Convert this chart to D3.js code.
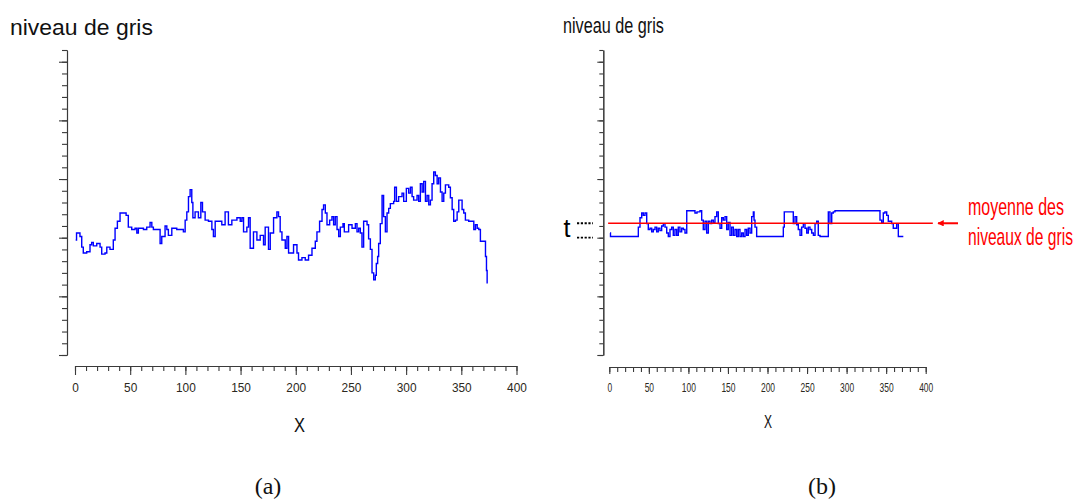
<!DOCTYPE html>
<html>
<head>
<meta charset="utf-8">
<script src="https://cdn.jsdelivr.net/npm/d3@7"></script>
<style>
  html, body { margin: 0; padding: 0; background: #fff; }
  svg { display: block; }
</style>
</head>
<body>
<svg id="chart" width="1078" height="500"></svg>
<script>
// ---------- data ----------
// (a) grey-level profile along x
const profileA = [
  [0.6,98],[1.4,104],[4.5,101],[6.1,92],[7.5,87],[10.6,88],[13.6,94],[15.1,96],[16.6,93],[19.7,95],
  [22.7,92],[24.2,86],[27.2,87],[28.8,92],[31.7,90],[34.7,98],[36.3,108],[38.4,114],[40.8,121],[43.8,121],
  [46.3,119],[48.3,109],[51.4,107],[54.4,108],[56,104],[57.4,108],[60.5,108],[62,107],[65,109],[68,113],
  [69.6,109],[71,107],[74.1,107],[77.1,95],[78.6,101],[81.6,110],[83.2,107],[84.6,102],[87.7,108],[92.2,107],
  [95.2,107],[98.2,105],[99.8,115],[101.3,122],[102.8,135],[104.3,141],[105.8,130],[106.8,117],[108.8,122],[111.8,117],
  [114,130],[115.5,122],[117.9,115],[120.9,114],[124,107],[125.4,101],[127,114],[130,114],[133,111],[136,122],
  [139,111],[142.1,115],[146.7,117],[149.7,114],[151.2,117],[152.7,105],[155.7,109],[157.2,117],[158.7,91],[161.7,105],
  [164.8,98],[167.8,102],[170.8,94],[172.3,109],[175.3,90],[176.9,104],[179.9,117],[182.9,122],[184.4,118],[185.9,105],
  [187.5,98],[190.5,91],[192,101],[193.5,87],[195,87],[198,94],[201.1,87],[202.5,81],[205.6,83],[208.6,81],
  [211.6,85],[214.7,91],[217.7,97],[219.2,105],[221.6,114],[223.8,124],[225.2,128],[226.8,121],[228.3,111],[230.7,115],
  [232.8,118],[234.3,111],[235.8,118],[237.4,107],[238.9,101],[240.4,109],[242.8,112],[244,105],[246.4,105],[247.9,111],
  [251,108],[254,112],[255.5,105],[257,108],[258.5,104],[260,92],[261.5,114],[264.6,111],[266,99],[267.6,90],
  [269.1,70],[270.6,64],[272.1,68],[273,78],[274.2,84],[275.1,95],[276.6,112],[278.2,136],[279.6,118],[281.2,105],
  [282.7,121],[284.2,125],[285.7,129],[288.7,131],[289.6,143],[291.2,131],[293.2,135],[296.3,138],[297.8,131],[300.2,142],
  [302.3,138],[303.9,143],[305.4,135],[306.8,132],[309.9,136],[311.4,131],[312.9,146],[314.5,139],[315.9,148],[317.5,131],
  [319,136],[320.5,128],[322,132],[323.5,146],[325,156],[326.5,153],[328.1,146],[329.5,151],[331.1,139],[332.6,131],
  [334.1,138],[335.6,145],[338.6,143],[340.1,134],[341.7,124],[343.1,114],[344.7,115],[346.2,122],[347.7,132],[349.2,132],
  [350.7,124],[352.2,121],[353.7,115],[356.7,114],[359.8,114],[361.3,107],[362.8,111],[364.4,108],[365.8,107],[367.3,97],
  [370.3,97],[371.9,84],[372.8,72],[373.4,61]
];

// (b) processed profile
const profileB = [
  [0.9,104],[1.5,101],[34.6,101],[36.7,109],[38.8,117],[41,121],[43,119],[45.1,121],[47.3,112],[49.3,107],
  [51.5,108],[53.6,105],[55.6,107],[57.8,109],[59.9,105],[61.9,108],[64,106],[66.2,110],[68.3,112],[70.4,109],
  [72.6,104],[74.6,101],[76.7,107],[78.9,109],[80.9,102],[83,107],[85.2,102],[87.2,109],[89.3,105],[91.5,108],
  [93.6,107],[95.7,104],[97.9,123],[106.2,123],[108.3,121],[110.9,122],[114.7,123],[116.8,115],[118.8,107],[121,114],
  [123.1,104],[125.2,114],[127.3,112],[129.4,115],[131.5,113],[133.6,118],[135.8,122],[137.8,112],[140,108],[142.1,117],
  [144.1,115],[146.3,118],[148.4,107],[150.4,113],[152.6,102],[154.7,109],[156.8,102],[158.9,107],[161.1,101],[163.1,107],
  [165.2,101],[167.4,104],[169.4,101],[171.6,107],[173.7,102],[175.7,108],[177.9,104],[180,118],[182.1,122],[183,115],
  [184.2,109],[186.3,101],[217.9,101],[220,109],[221.2,122],[230.6,122],[232.6,112],[234.8,118],[236.9,111],[238.9,107],
  [241.1,102],[243.2,109],[245.3,112],[247.4,108],[249.6,104],[251.6,109],[253.7,107],[255.9,104],[258,102],[260.1,112],
  [262.2,114],[264.2,102],[266.4,101],[274.8,101],[276.9,122],[279,112],[281.2,121],[283.2,122],[285.3,123],[340.1,123],
  [342.2,115],[344.4,113],[346.4,121],[348.5,122],[350.7,119],[352.7,114],[354.9,114],[357,112],[359,108],[361.2,108],
  [363.3,112],[365.4,101],[371.7,101]
];

const meanLevel = 112.3;      // "moyenne des niveaux de gris"
const thresholdLevel = 100;   // level marked "t"
const meanExtent = [-1.5, 409];

const xDomain = [0, 400];
const yDomain = [0, 260];
const xMajorTicks = [0, 50, 100, 150, 200, 250, 300, 350, 400];
const xMinorTicks = d3.range(0, 401, 10);
const yMajorTicks = [0, 50, 100, 150, 200, 250];
const yMinorTicks = d3.range(0, 261, 10);

const yTitle = "niveau de gris";
const xTitle = "X";
const meanLabel = ["moyenne des", "niveaux de gris"];
const thresholdLabel = "t";
const captions = ["(a)", "(b)"];

// ---------- drawing ----------
const svg = d3.select("#chart");
const axisColor = "#3a3a3a";
const labelColor = "#2b2820";
const sans = "'Liberation Sans', Arial, sans-serif";

// draw a horizontally condensed text so that its real box has the wanted width
function condensedText(parent, str, x, y, size, width, color) {
  const g = parent.append("g");
  const t = g.append("text").attr("x", 0).attr("y", 0)
    .attr("font-family", sans).attr("font-size", size).attr("fill", color)
    .text(str);
  const w = t.node().getComputedTextLength() || width;
  g.attr("transform", `translate(${x},${y}) scale(${width / w},1)`);
  return g;
}

function panel(cfg) {
  const x = d3.scaleLinear().domain(xDomain).range(cfg.xRange);
  const y = d3.scaleLinear().domain(yDomain).range([355, 50]);
  const g = svg.append("g");

  // x axis minor
  g.append("g").attr("transform", `translate(0,${cfg.xAxisY})`)
    .call(d3.axisBottom(x).tickValues(xMinorTicks).tickSize(cfg.xMinor).tickSizeOuter(0).tickFormat(""))
    .call(s => s.selectAll("path,line").attr("stroke", axisColor).attr("stroke-width", 1.1));
  // x axis major with labels
  const xa = g.append("g").attr("transform", `translate(0,${cfg.xAxisY})`)
    .call(d3.axisBottom(x).tickValues(xMajorTicks).tickSize(cfg.xMajor).tickSizeOuter(0).tickPadding(cfg.pad));
  xa.selectAll("path,line").attr("stroke", axisColor).attr("stroke-width", 1.1);
  xa.selectAll("text")
    .attr("fill", labelColor)
    .attr("font-family", sans)
    .attr("font-size", 13)
    .attr("textLength", d => String(d).length * cfg.digitW)
    .attr("lengthAdjust", "spacingAndGlyphs");

  // y axis minor / major (no labels)
  g.append("g").attr("transform", `translate(${cfg.yAxisX},0)`)
    .call(d3.axisLeft(y).tickValues(yMinorTicks).tickSize(cfg.yMinor).tickSizeOuter(0).tickFormat(""))
    .call(s => s.selectAll("path,line").attr("stroke", axisColor).attr("stroke-width", 1.1));
  g.append("g").attr("transform", `translate(${cfg.yAxisX},0)`)
    .call(d3.axisLeft(y).tickValues(yMajorTicks).tickSize(cfg.yMajor).tickSizeOuter(0).tickFormat(""))
    .call(s => s.selectAll("path,line").attr("stroke", axisColor).attr("stroke-width", 1.1));

  // y title
  condensedText(g, yTitle, cfg.titleX, cfg.titleY, 22, cfg.titleW, "#111");

  // x title
  condensedText(g, xTitle, cfg.xLabelX - cfg.xLabelW / 2, cfg.xLabelY, cfg.xLabelSize, cfg.xLabelW, "#111");

  // data line
  const line = d3.line().x(d => x(d[0])).y(d => y(d[1])).curve(d3.curveStepAfter);
  g.append("path").datum(cfg.data)
    .attr("d", line).attr("fill", "none")
    .attr("stroke", "#0000ff").attr("stroke-width", 1.4);

  // caption
  svg.append("text").attr("x", cfg.capX).attr("y", 494)
    .attr("text-anchor", "middle")
    .attr("font-family", "'Liberation Serif', 'Times New Roman', serif")
    .attr("font-size", 24).attr("font-weight", "normal").attr("fill", "#111")
    .text(cfg.caption);

  return { x, y, g };
}

panel({
  xRange: [75, 516.5], xAxisY: 366, xMinor: 5, xMajor: 9, pad: 8, digitW: 6.6,
  yAxisX: 67, yMinor: 5, yMajor: 8,
  titleX: 10, titleY: 35, titleW: 143,
  xLabelX: 299.5, xLabelY: 432, xLabelSize: 21, xLabelW: 11,
  data: profileA, capX: 268, caption: captions[0]
});

const pb = panel({
  xRange: [609.3, 925.7], xAxisY: 367, xMinor: 5, xMajor: 7, pad: 9, digitW: 4.7,
  yAxisX: 603.3, yMinor: 4, yMajor: 6,
  titleX: 563, titleY: 33, titleW: 101,
  xLabelX: 768, xLabelY: 428, xLabelSize: 18, xLabelW: 8,
  data: profileB, capX: 822, caption: captions[1]
});

// mean line (red)
pb.g.append("line")
  .attr("x1", pb.x(meanExtent[0])).attr("x2", pb.x(meanExtent[1]))
  .attr("y1", pb.y(meanLevel)).attr("y2", pb.y(meanLevel))
  .attr("stroke", "#ff0000").attr("stroke-width", 1.4);

// arrow pointing to mean line
svg.append("defs").append("marker")
  .attr("id", "arrowhead").attr("viewBox", "0 0 10 10")
  .attr("refX", 9).attr("refY", 5)
  .attr("markerWidth", 3.2).attr("markerHeight", 3.2)
  .attr("orient", "auto")
  .append("path").attr("d", "M0,0 L10,5 L0,10 z").attr("fill", "#ff0000");
pb.g.append("line")
  .attr("x1", 958).attr("x2", 938)
  .attr("y1", pb.y(meanLevel)).attr("y2", pb.y(meanLevel))
  .attr("stroke", "#ff0000").attr("stroke-width", 2)
  .attr("marker-end", "url(#arrowhead)");

// mean label
meanLabel.forEach((t, i) => {
  condensedText(pb.g, t, 968, 215 + i * 30, 24, i === 0 ? 96 : 105, "#ff0000");
});

// threshold marker "t" with dotted guides
[meanLevel, thresholdLevel].forEach(v => {
  pb.g.append("line")
    .attr("x1", 577).attr("x2", 593)
    .attr("y1", pb.y(v)).attr("y2", pb.y(v))
    .attr("stroke", "#000").attr("stroke-width", 1.8)
    .attr("stroke-dasharray", "2.2,1.6");
});
pb.g.append("text")
  .attr("x", 563.5).attr("y", 237)
  .attr("font-family", sans).attr("font-size", 25).attr("fill", "#000")
  .text(thresholdLabel);
</script>
</body>
</html>
